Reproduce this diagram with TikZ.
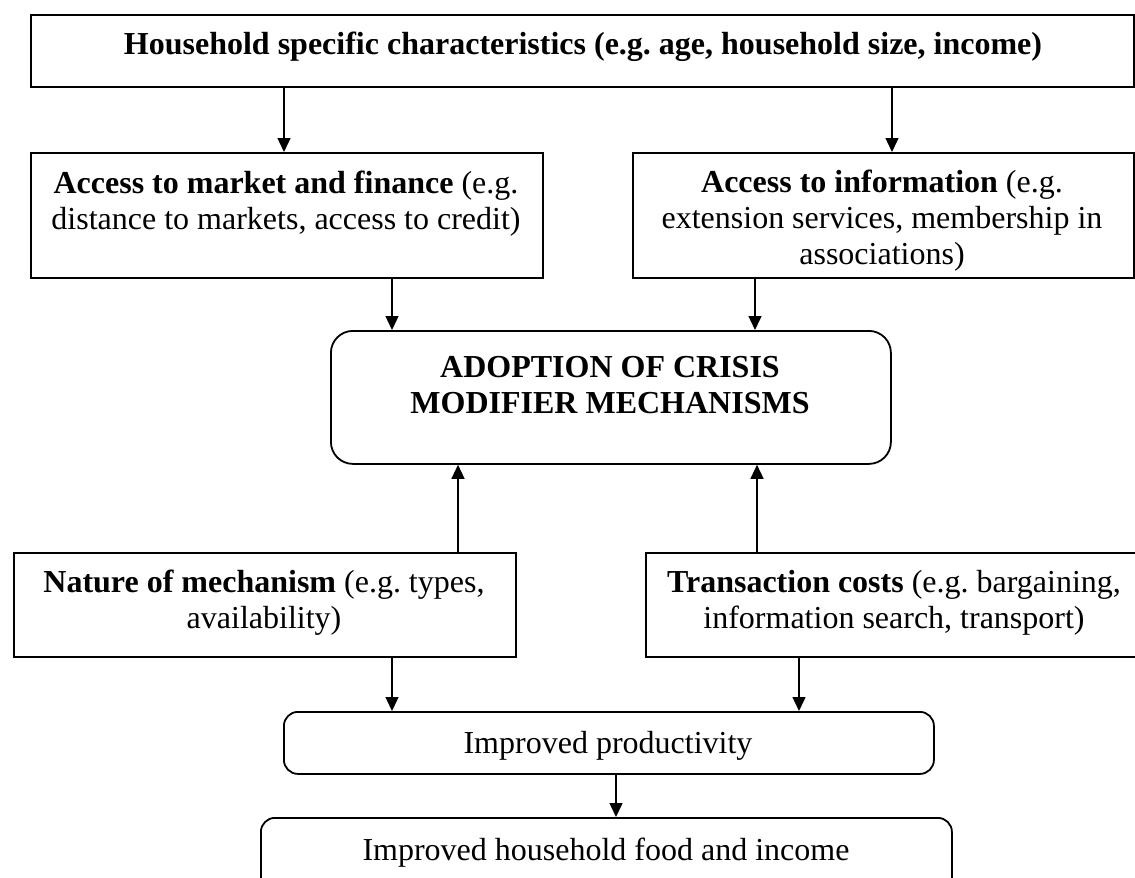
\documentclass[tikz,border=0pt]{standalone}
\usepackage{fontspec}
\setmainfont{Liberation Serif}
\usetikzlibrary{arrows.meta}
\frenchspacing
\begin{document}
\begin{tikzpicture}[x=1pt,y=-1pt,
  box/.style={draw=black,line width=1.8pt,inner sep=0pt,anchor=north west},
  rbox/.style={box,rounded corners=14pt},
  lbl/.style={inner sep=0pt,anchor=north,align=center,font=\fontsize{32}{36}\selectfont},
  arr/.style={line width=1.4pt,-{Triangle[length=14pt,width=13pt]}}]
\useasboundingbox (0,0) rectangle (1135,878);
% boxes
\node[box,minimum width=1103pt,minimum height=72pt] (top) at (30,14) {};
\node[box,minimum width=512pt,minimum height=125pt] (market) at (30,152) {};
\node[box,minimum width=501pt,minimum height=125pt] (info) at (632,152) {};
\node[rbox,rounded corners=22pt,minimum width=560pt,minimum height=133pt] (adopt) at (330,330) {};
\node[box,minimum width=502pt,minimum height=104pt] (nature) at (13,552) {};
\node[box,minimum width=500pt,minimum height=104pt] (trans) at (645,552) {};
\node[rbox,minimum width=650pt,minimum height=62pt] (prod) at (283,711) {};
\node[rbox,minimum width=691pt,minimum height=75pt] (food) at (260,817) {};
% texts (north = first baseline - 25.2)
\node[lbl] (topT) at (583,28.8) {\strut\textbf{Household specific characteristics (e.g. age, household size, income)}};
\node[lbl] (marketT) at (286,167.8) {\strut\textbf{Access to market and finance} (e.g.\\ distance to markets, access to credit)};
\node[lbl] (infoT) at (882,166.8) {\strut\textbf{Access to information} (e.g.\\ extension services, membership in\\ associations)};
\node[lbl] (adoptT) at (610,351.8) {\strut\textbf{ADOPTION OF CRISIS}\\ \textbf{MODIFIER MECHANISMS}};
\node[lbl] (natureT) at (264,566.8) {\strut\textbf{Nature of mechanism} (e.g. types,\\ availability)};
\node[lbl] (transT) at (894,566.8) {\strut\textbf{Transaction costs} (e.g. bargaining,\\ information search, transport)};
\node[lbl] (prodT) at (608,727.8) {\strut Improved productivity};
\node[lbl] (foodT) at (606,834.8) {\strut Improved household food and income};
% x positions of connectors
\coordinate (xa) at (284,0);
\coordinate (xb) at (892,0);
\coordinate (xc) at (392,0);
\coordinate (xd) at (755,0);
\coordinate (xe) at (458,0);
\coordinate (xf) at (757,0);
\coordinate (xg) at (799,0);
\coordinate (xh) at (616,0);
% connectors
\draw[arr] (top.south -| xa) -- (market.north -| xa);
\draw[arr] (top.south -| xb) -- (info.north -| xb);
\draw[arr] (market.south -| xc) -- (adopt.north -| xc);
\draw[arr] (info.south -| xd) -- (adopt.north -| xd);
\draw[arr] (nature.north -| xe) -- (adopt.south -| xe);
\draw[arr] (trans.north -| xf) -- (adopt.south -| xf);
\draw[arr] (nature.south -| xc) -- (prod.north -| xc);
\draw[arr] (trans.south -| xg) -- (prod.north -| xg);
\draw[arr] (prod.south -| xh) -- (food.north -| xh);
\end{tikzpicture}
\end{document}
